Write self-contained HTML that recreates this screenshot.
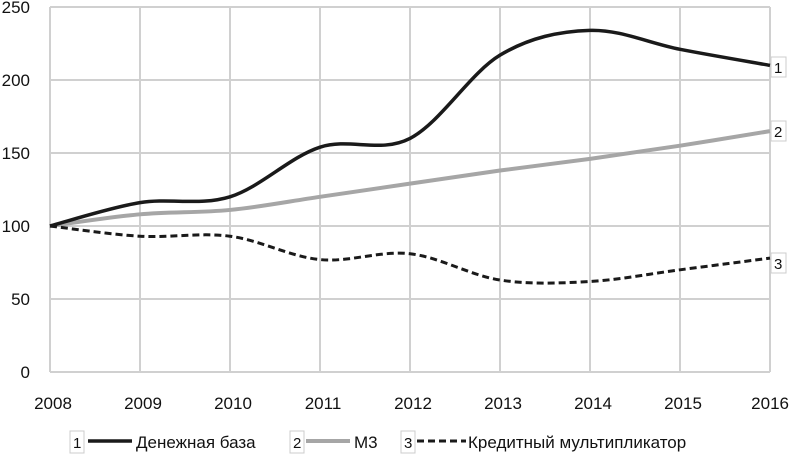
<!DOCTYPE html>
<html><head><meta charset="utf-8"><style>
body{margin:0;background:#fff}
svg{font-family:"Liberation Sans",sans-serif;}
</style></head><body>
<svg id="s" width="790" height="459" xmlns="http://www.w3.org/2000/svg">
<g id="grid" stroke="#d0d0d0" stroke-width="2" fill="none"></g>
<g id="lab" font-size="17" fill="#111"></g>
<path id="p2" fill="none" stroke="#a6a6a6" stroke-width="4"/>
<path id="p1" fill="none" stroke="#1a1a1a" stroke-width="3.5"/>
<path id="p3" fill="none" stroke="#1a1a1a" stroke-width="3" stroke-dasharray="7,4"/>
<g font-size="15" fill="#111">
<rect x="771" y="57" width="15" height="20" fill="#fff" stroke="#ccc"/><text x="774" y="73">1</text>
<rect x="771" y="121" width="15" height="20" fill="#fff" stroke="#ccc"/><text x="774" y="137">2</text>
<rect x="771" y="253" width="15" height="20" fill="#fff" stroke="#ccc"/><text x="774" y="269">3</text>
</g>
<g font-size="17" fill="#111">
<rect x="70" y="431" width="14" height="22" fill="#fff" stroke="#ccc"/><text x="73" y="448" font-size="15">1</text>
<line x1="88" y1="441" x2="132" y2="441" stroke="#1a1a1a" stroke-width="3.5"/>
<text x="136" y="448">Денежная база</text>
<rect x="290" y="431" width="14" height="22" fill="#fff" stroke="#ccc"/><text x="293" y="448" font-size="15">2</text>
<line x1="306" y1="441" x2="350" y2="441" stroke="#a6a6a6" stroke-width="4"/>
<text x="354" y="448">М3</text>
<rect x="401" y="431" width="14" height="22" fill="#fff" stroke="#ccc"/><text x="404" y="448" font-size="15">3</text>
<line x1="417" y1="441" x2="466" y2="441" stroke="#1a1a1a" stroke-width="3" stroke-dasharray="7,4"/>
<text x="468" y="448">Кредитный мультипликатор</text>
</g>
</svg>
<script>
var X=function(i){return 50+i*90;},Y=function(v){return 372-v*1.46;};
var g=document.getElementById('grid'),l=document.getElementById('lab'),ns="http://www.w3.org/2000/svg";
function el(p,t,a,txt){var e=document.createElementNS(ns,t);for(var k in a)e.setAttribute(k,a[k]);if(txt)e.textContent=txt;p.appendChild(e);}
for(var i=0;i<=8;i++){el(g,'line',{x1:X(i),y1:Y(250),x2:X(i),y2:Y(0)});
if(i==8)el(l,'text',{x:789,y:409,'text-anchor':'end'},'2016');else el(l,'text',{x:X(i)+3,y:409,'text-anchor':'middle'},String(2008+i));}
for(var v=0;v<=250;v+=50){el(g,'line',{x1:50,y1:Y(v),x2:770,y2:Y(v)});el(l,'text',{x:30,y:Y(v)+6,'text-anchor':'end'},String(v));}
function path(d){var p=d.map(function(v,i){return[X(i),Y(v)]});var s="M"+p[0][0]+","+p[0][1];
for(var i=0;i<p.length-1;i++){var a=p[Math.max(0,i-1)],b=p[i],c=p[i+1],e=p[Math.min(p.length-1,i+2)];
s+=" C"+(b[0]+(c[0]-a[0])/6)+","+(b[1]+(c[1]-a[1])/6)+" "+(c[0]-(e[0]-b[0])/6)+","+(c[1]-(e[1]-b[1])/6)+" "+c[0]+","+c[1];}return s;}
document.getElementById('p1').setAttribute('d',path([100,116,120,154,160,217,234,221,210]));
document.getElementById('p2').setAttribute('d',path([100,108,111,120,129,138,146,155,165]));
document.getElementById('p3').setAttribute('d',path([100,93,93,77,81,63,62,70,78]));
</script>
</body></html>
